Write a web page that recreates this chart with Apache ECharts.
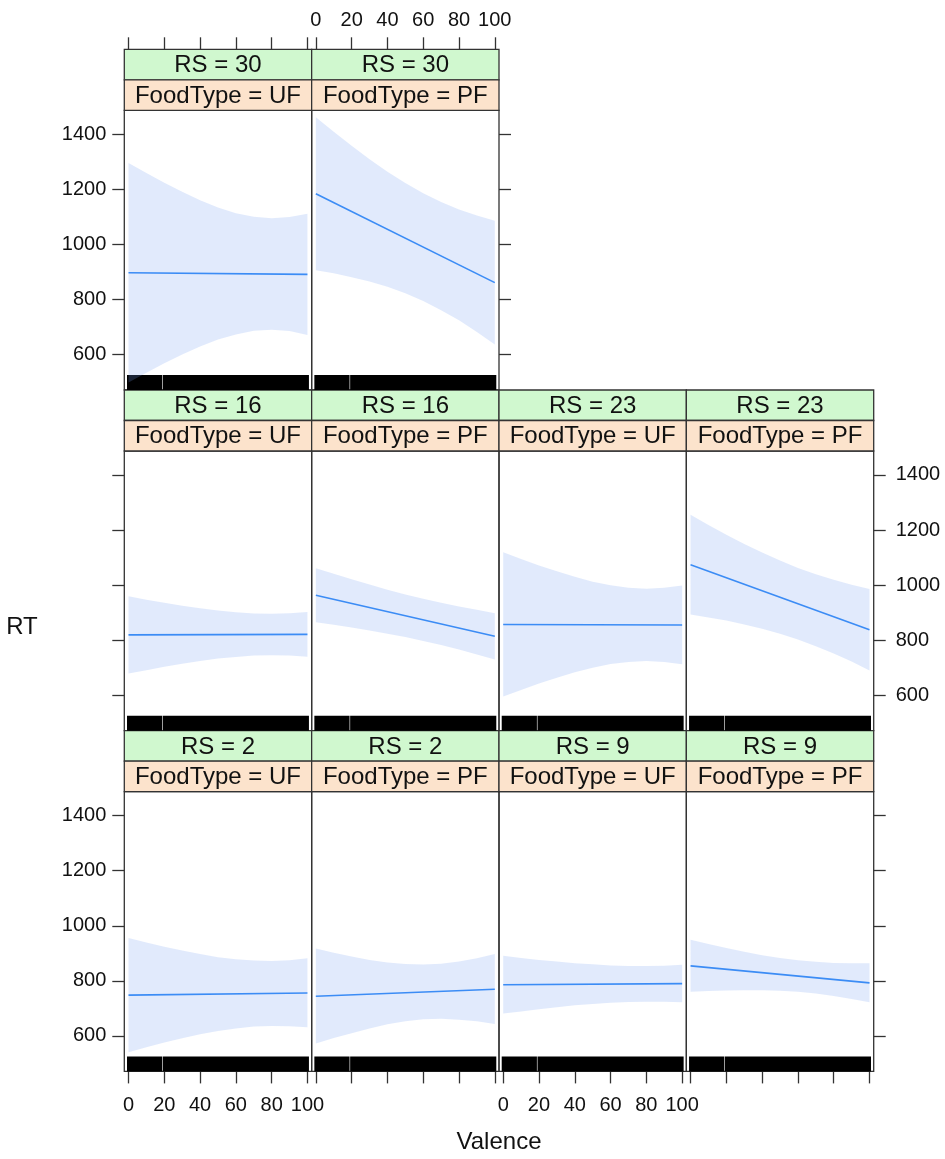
<!DOCTYPE html>
<html>
<head>
<meta charset="utf-8">
<script src="https://cdn.jsdelivr.net/npm/echarts@6/dist/echarts.min.js"></script>
<style>
html,body{margin:0;padding:0;background:#fff;}
#chart{width:945px;height:1159px;}
</style>
</head>
<body>
<div id="chart"></div>
<script>
// ---------------- data ----------------
const valenceGrid = [0, 10, 20, 30, 40, 50, 60, 70, 80, 90, 100];
const xTicks = [0, 20, 40, 60, 80, 100];
const yTicks = [600, 800, 1000, 1200, 1400];
const rsLevels = [30, 30, 16, 16, 23, 23, 2, 2, 9, 9];
const foodTypes = ['UF', 'PF', 'UF', 'PF', 'UF', 'PF', 'UF', 'PF', 'UF', 'PF'];
const panelRow = [0, 0, 1, 1, 1, 1, 2, 2, 2, 2];
const panelCol = [0, 1, 0, 1, 2, 3, 0, 1, 2, 3];
const fitStart = [897, 1184, 819, 963, 857, 1074, 748, 744, 785.5, 854.4];
const fitEnd = [891, 861, 821, 814, 855, 837.5, 756, 769.5, 790, 792.7];
const upperCI = [
  [1296, 1259, 1224, 1191, 1160, 1134, 1113, 1100, 1095, 1099, 1111],
  [1462, 1409, 1358, 1309, 1264, 1223, 1186, 1154, 1127, 1105, 1086],
  [959, 947, 936, 925, 916, 908, 901, 897, 896, 898, 902],
  [1061, 1041, 1021, 1002, 983, 966, 950, 936, 922, 910, 898],
  [1119, 1095, 1071, 1050, 1030, 1012, 999, 990, 987, 990, 998],
  [1255, 1218, 1183, 1149, 1118, 1089, 1062, 1039, 1019, 1001, 986],
  [956, 939, 924, 910, 897, 886, 878, 874, 872, 875, 882],
  [917, 902, 888, 876, 867, 861, 859, 862, 870, 882, 897],
  [891, 883, 876, 870, 864, 860, 856, 854, 854, 855, 858],
  [949, 934, 919, 906, 893, 883, 875, 869, 865, 864, 864]
];
const lowerCI = [
  [498, 534, 568, 600, 629, 654, 673, 686, 690, 685, 671],
  [906, 895, 881, 865, 846, 822, 794, 761, 724, 682, 636],
  [679, 691, 703, 714, 724, 733, 739, 744, 745, 744, 740],
  [865, 856, 846, 835, 823, 811, 797, 782, 766, 748, 730],
  [595, 619, 642, 663, 683, 700, 713, 721, 724, 721, 712],
  [893, 882, 871, 857, 841, 823, 802, 778, 751, 722, 690],
  [541, 559, 576, 591, 606, 618, 627, 634, 636, 635, 631],
  [572, 592, 610, 627, 642, 653, 660, 662, 659, 653, 643],
  [681, 689, 697, 704, 711, 716, 720, 723, 724, 724, 722],
  [760, 763, 765, 766, 766, 764, 760, 754, 745, 734, 722]
];
// rug of observed Valence values (covered intervals)
const rugSegments = [[0, 18], [20, 100]];

// ---------------- layout ----------------
const FONT = "'Liberation Sans', Arial, Helvetica, sans-serif";
const X0 = 124.3, PW = 187.35;
const Y0 = 49.3, ROWH = 340.7, STRIPH = 30.5, PLOTH = 279.7;
const lastCol = [1, 3, 3];
const XMIN = -2.35, XMAX = 102.35, YMIN = 471, YMAX = 1487;
const lineColor = '#3b8cf5';
const bandColor = 'rgba(120,160,240,0.22)';
const axisCol = '#333';

const grids = [], xAxes = [], yAxes = [], series = [], graphics = [];

for (let i = 0; i < rsLevels.length; i++) {
  const r = panelRow[i], c = panelCol[i];
  const left = X0 + c * PW;
  const stripTop = Y0 + r * ROWH;
  const plotTop = stripTop + 2 * STRIPH;
  grids.push({left: left, top: plotTop, width: PW, height: PLOTH, show: true,
    borderColor: axisCol, borderWidth: 1.3, backgroundColor: 'transparent'});

  const xShow = r !== 1;
  const xLabel = (r === 0 && c === 1) || (r === 2 && (c === 0 || c === 2));
  xAxes.push({
    gridIndex: i, type: 'value', min: XMIN, max: XMAX,
    show: xShow, position: r === 0 ? 'top' : 'bottom', offset: r === 0 ? 2 * STRIPH : 0,
    axisLine: {show: false, onZero: false}, splitLine: {show: false},
    axisTick: {show: true, length: 12, customValues: xTicks, lineStyle: {color: axisCol, width: 1.3}},
    axisLabel: {show: xLabel, customValues: xTicks, fontSize: 20, color: '#111', fontFamily: FONT,
      margin: r === 0 ? 19 : 24, formatter: v => String(v)}
  });

  const yLeft = c === 0, yRight = c === lastCol[r];
  const yLabel = (yLeft && r !== 1) || (yRight && r === 1);
  yAxes.push({
    gridIndex: i, type: 'value', min: YMIN, max: YMAX,
    show: yLeft || yRight, position: yLeft ? 'left' : 'right',
    axisLine: {show: false, onZero: false}, splitLine: {show: false},
    axisTick: {show: true, length: 12, customValues: yTicks, lineStyle: {color: axisCol, width: 1.3}},
    axisLabel: {show: yLabel, customValues: yTicks, fontSize: 20, color: '#111', fontFamily: FONT,
      margin: yLeft ? 18 : 22, formatter: v => String(v)}
  });

  // rug
  series.push({
    type: 'custom', xAxisIndex: i, yAxisIndex: i, silent: true, animation: false,
    data: rugSegments,
    renderItem: function (params, api) {
      const cs = params.coordSys;
      const a = api.coord([api.value(0), YMIN])[0];
      const b = api.coord([api.value(1), YMIN])[0];
      return {type: 'rect', shape: {x: a - 1.5, y: cs.y + cs.height - 15, width: b - a + 3, height: 15},
        style: {fill: '#000'}};
    }
  });
  // confidence band
  const up = upperCI[i], lo = lowerCI[i];
  series.push({
    type: 'custom', xAxisIndex: i, yAxisIndex: i, silent: true, animation: false,
    data: [[valenceGrid[0], lo[0]]],
    renderItem: function (params, api) {
      const pts = [];
      for (let k = 0; k < valenceGrid.length; k++) pts.push(api.coord([valenceGrid[k], up[k]]));
      for (let k = valenceGrid.length - 1; k >= 0; k--) pts.push(api.coord([valenceGrid[k], lo[k]]));
      return {type: 'polygon', shape: {points: pts}, style: {fill: bandColor}};
    }
  });
  // fitted line
  series.push({
    type: 'line', xAxisIndex: i, yAxisIndex: i, showSymbol: false, symbol: 'none', silent: true,
    animation: false, lineStyle: {color: lineColor, width: 1.6},
    data: [[0, fitStart[i]], [100, fitEnd[i]]]
  });

  // strips
  graphics.push({type: 'rect', shape: {x: left, y: stripTop, width: PW, height: STRIPH},
    style: {fill: '#d0f8cf', stroke: axisCol, lineWidth: 1.3}});
  graphics.push({type: 'rect', shape: {x: left, y: stripTop + STRIPH, width: PW, height: STRIPH},
    style: {fill: '#fce3cc', stroke: axisCol, lineWidth: 1.3}});
  graphics.push({type: 'text', x: left + PW / 2, y: stripTop + STRIPH / 2 + 1,
    style: {text: 'RS = ' + rsLevels[i], font: '24px ' + FONT, fill: '#111',
      textAlign: 'center', textVerticalAlign: 'middle'}});
  graphics.push({type: 'text', x: left + PW / 2, y: stripTop + STRIPH * 1.5 + 1,
    style: {text: 'FoodType = ' + foodTypes[i], font: '24px ' + FONT, fill: '#111',
      textAlign: 'center', textVerticalAlign: 'middle'}});
}

graphics.push({type: 'text', x: 22, y: 627,
  style: {text: 'RT', font: '24px ' + FONT, fill: '#111', textAlign: 'center', textVerticalAlign: 'middle'}});
graphics.push({type: 'text', x: X0 + 2 * PW, y: 1142,
  style: {text: 'Valence', font: '24px ' + FONT, fill: '#111', textAlign: 'center', textVerticalAlign: 'middle'}});

const chart = echarts.init(document.getElementById('chart'), null, {renderer: 'canvas'});
chart.setOption({
  backgroundColor: '#fff',
  animation: false,
  grid: grids,
  xAxis: xAxes,
  yAxis: yAxes,
  series: series,
  graphic: graphics
});
</script>
</body>
</html>
